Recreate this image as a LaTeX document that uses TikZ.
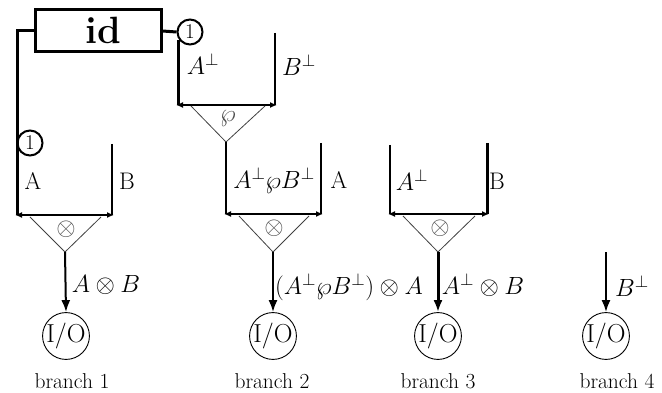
\documentclass[tikz,border=0pt]{standalone}
\usepackage{amssymb}
\usetikzlibrary{arrows.meta}
\tikzset{
  thickw/.style={line width=3pt},
  normw/.style={line width=2pt},
  barline/.style={line width=2.2pt,{Latex[length=7pt,width=6pt]}-{Latex[length=7pt,width=6pt]}},
  tri/.style={line width=0.8pt,black!75},
  outarrow/.style={line width=2pt,-{Latex[length=12pt,width=9pt]}},
  iocirc/.style={circle,draw,line width=0.9pt,minimum size=37pt,inner sep=0pt,font=\fontsize{26}{28}\selectfont},
  onecirc/.style={circle,draw,line width=2pt,minimum size=25pt,inner sep=0pt,fill=white,font=\fontsize{21}{24}\selectfont},
  lab/.style={inner sep=0pt,font=\fontsize{24}{28}\selectfont},
  brlab/.style={inner sep=0pt,font=\fontsize{21.5}{24}\selectfont},
  opsym/.style={inner sep=0pt,text=black!70,font=\fontsize{24}{26}\selectfont},
}
\begin{document}
\begin{tikzpicture}[x=1pt,y=-1pt]
\useasboundingbox (0,0) rectangle (662,393);
% id box
\node[draw,line width=3pt,minimum width=126pt,minimum height=42pt,inner sep=0pt] (id) at (98,30.5) {};
\node[inner sep=0pt,font=\fontsize{38}{42}\selectfont\bfseries] (idtext) at (103,30) {id};
\node[onecirc] (c1top) at (190,32) {1};
\node[onecirc] (c1left) at (30,143) {1};
% coordinates
\coordinate (wl) at (17,31);
\coordinate (wtop) at (178,31);
\coordinate (wtopd) at (178,40);
% par gadget
\coordinate (pl) at (176,105);
\coordinate (pr) at (277,105);
\coordinate (pwl) at (178,105);
\coordinate (pwr) at (275,105);
\coordinate (pwrt) at (275,33);
\coordinate (ptl) at (191,106);
\coordinate (ptr) at (265,106);
\coordinate (pap) at (226,142);
% branch 1
\coordinate (b1l) at (15,215);
\coordinate (b1r) at (114,215);
\coordinate (b1wl) at (17,215);
\coordinate (b1wr) at (112,215);
\coordinate (b1wrt) at (112,144);
\coordinate (b1tl) at (30,217);
\coordinate (b1tr) at (101,217);
\coordinate (b1ap) at (65,252);
% branch 2
\coordinate (b2l) at (224,214);
\coordinate (b2r) at (323,214);
\coordinate (b2wl) at (226,214);
\coordinate (b2wr) at (321,214);
\coordinate (b2wrt) at (321,143);
\coordinate (b2tl) at (239,216);
\coordinate (b2tr) at (309,216);
\coordinate (b2ap) at (273,252);
% branch 3
\coordinate (b3l) at (388,214);
\coordinate (b3r) at (489,214);
\coordinate (b3wl) at (390,214);
\coordinate (b3wr) at (487,214);
\coordinate (b3wlt) at (390,145);
\coordinate (b3wrt) at (487,143);
\coordinate (b3tl) at (403,216);
\coordinate (b3tr) at (475,216);
\coordinate (b3ap) at (438,252);
% branch 4
\coordinate (b4t) at (606,252);
% io circles
\node[iocirc] (io1) at (66,336) {I/O};
\node[iocirc] (io2) at (273,336) {I/O};
\node[iocirc] (io3) at (438,336) {I/O};
\node[iocirc] (io4) at (606,336) {I/O};
% wires from id
\draw[thickw] (id.west |- wl) -- (wl) -- (b1wl);
\draw[thickw] (id.east |- wtop) -- (c1top.west);
\draw[thickw] (wtopd) -- (pwl);
\draw[normw] (pwrt) -- (pwr);
\draw[barline] (pl) -- (pr);
\draw[tri] (ptl) -- (pap) -- (ptr);
\node[opsym] (parsym) at (228,119) {$\wp$};
% branch 1
\draw[normw] (b1wrt) -- (b1wr);
\draw[barline] (b1l) -- (b1r);
\draw[tri] (b1tl) -- (b1ap) -- (b1tr);
\node[opsym] (t1) at (66,229) {$\otimes$};
\draw[outarrow] (b1ap) -- (io1.north);
% branch 2
\draw[normw] (pap) -- (b2wl);
\draw[normw] (b2wrt) -- (b2wr);
\draw[barline] (b2l) -- (b2r);
\draw[tri] (b2tl) -- (b2ap) -- (b2tr);
\node[opsym] (t2) at (274,228) {$\otimes$};
\draw[outarrow] (b2ap) -- (io2.north);
% branch 3
\draw[normw] (b3wlt) -- (b3wl);
\draw[thickw] (b3wrt) -- (b3wr);
\draw[barline,line width=2.8pt] (b3l) -- (b3r);
\draw[tri] (b3tl) -- (b3ap) -- (b3tr);
\node[opsym] (t3) at (440,228) {$\otimes$};
\draw[outarrow,line width=3pt] (b3ap) -- (io3.north);
% branch 4
\draw[outarrow] (b4t) -- (io4.north);
% labels
\node[lab] (lAp) at (203,64) {$A^\perp$};
\node[lab] (lBp) at (299,65) {$B^\perp$};
\node[lab] (l1A) at (33,181) {A};
\node[lab] (l1B) at (127,181) {B};
\node[lab] (l2P) at (274,180) {$A^\perp\wp B^\perp$};
\node[lab] (l2A) at (339,180) {A};
\node[lab] (l3A) at (412,180) {$A^\perp$};
\node[lab] (l3B) at (497,181) {B};
\node[lab] (o1) at (106,285) {$A\otimes B$};
\node[lab] (o2) at (349,287) {$(A^\perp\wp B^\perp)\otimes A$};
\node[lab] (o3) at (483,285) {$A^\perp\otimes B$};
\node[lab] (o4) at (632,286) {$B^\perp$};
\node[brlab] (br1) at (72,381) {branch 1};
\node[brlab] (br2) at (272,381) {branch 2};
\node[brlab] (br3) at (438,381) {branch 3};
\node[brlab] (br4) at (617,381) {branch 4};
\end{tikzpicture}
\end{document}
